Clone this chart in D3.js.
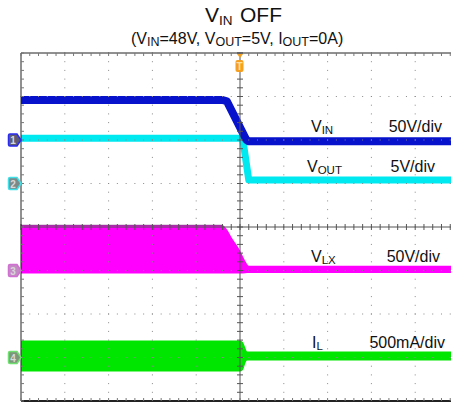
<!DOCTYPE html>
<html>
<head>
<meta charset="utf-8">
<script src="https://cdn.jsdelivr.net/npm/d3@7"></script>
<style>
  html, body { margin: 0; padding: 0; background: #fff; }
  svg { display: block; font-family: "Liberation Sans", Arial, sans-serif; }
</style>
</head>
<body>
<svg id="chart" width="451" height="404"></svg>
<script>
// ---- Data (time in divisions, values in channel units) ----
const xDivisions = d3.range(0, 11);          // 10 horizontal divisions
const yDivisions = d3.range(-4, 5);          // 8 vertical divisions
const channelNames = ["VIN", "VOUT", "VLX", "IL"];
const channelOffsets = [2, 1, -1, -3];       // ground reference (div)
const channelPerDiv = [50, 5, 50, 500];      // V/div, V/div, V/div, mA/div
const scaleLabels = ["50V/div", "5V/div", "50V/div", "500mA/div"];
const channelMarkers = ["1", "2", "3", "4"];

// VIN (V)
const vinTime = [0, 4.6, 4.7, 5.14, 5.2, 10];
const vinValue = [46, 46, 44.5, 0.5, -1.5, -1.5];
// VOUT (V)
const voutTime = [0, 5.06, 5.11, 5.2, 10];
const voutValue = [5.2, 5.2, 3.5, 0.4, 0.4];
// VLX envelope (V)
const vlxTime = [0, 4.6, 4.66, 4.82, 5.0, 5.12, 5.2, 10];
const vlxHigh = [52, 52, 50, 37, 23, 11, 5.5, 5.5];
const vlxLow = [-3.5, -3.5, -3.5, -3.5, -3.5, -3.2, -3, -3];
// IL envelope (mA)
const ilTime = [0, 4.95, 5.03, 5.08, 5.12, 5.16, 10];
const ilHigh = [195, 195, 190, 165, 115, 69, 69];
const ilLow = [-161, -161, -158, -130, -70, -34, -34];

// ---- Scales ----
const svg = d3.select("#chart");
const x = d3.scaleLinear().domain([0, 10]).range([21, 459]);
const y = d3.scaleLinear().domain([-4, 4]).range([401, 53]);
const chY = (ch, v) => y(channelOffsets[ch] + v / channelPerDiv[ch]);

const colors = { VIN: "#0612cc", VOUT: "#00e8f0", VLX: "#ff00ff", IL: "#00e600" };

// ---- Titles ----
const title = svg.append("text").attr("y", 22).attr("font-size", 21).attr("fill", "#111");
title.append("tspan").attr("x", 205).text("V");
title.append("tspan").attr("font-size", 13.5).attr("dy", 3).text("IN");
title.append("tspan").attr("x", 240).attr("dy", -3).text("OFF");

const subMain = 16, subSmall = 12.5;
const sub = svg.append("text").attr("x", 131).attr("y", 44).attr("font-size", subMain).attr("fill", "#111");
sub.append("tspan").text("(V");
sub.append("tspan").attr("font-size", subSmall).attr("dy", 2).text("IN");
sub.append("tspan").attr("dy", -2).text("=48V, V");
sub.append("tspan").attr("font-size", subSmall).attr("dy", 2).text("OUT");
sub.append("tspan").attr("dy", -2).text("=5V, I");
sub.append("tspan").attr("font-size", subSmall).attr("dy", 2).text("OUT");
sub.append("tspan").attr("dy", -2).text("=0A)");

// ---- Clip ----
svg.append("clipPath").attr("id", "plot").append("rect")
  .attr("x", x(0)).attr("y", y(4)).attr("width", x(10) - x(0)).attr("height", y(-4) - y(4));
const g = svg.append("g").attr("clip-path", "url(#plot)");

// ---- Traces ----
const areaVlx = d3.area()
  .x((d, i) => x(vlxTime[i]))
  .y0((d, i) => chY(2, vlxLow[i]))
  .y1((d, i) => chY(2, vlxHigh[i]))
  .curve(d3.curveMonotoneX);
g.append("path").datum(vlxTime).attr("d", areaVlx).attr("fill", colors.VLX);
g.append("path").datum(vlxTime.slice(0, 2))
  .attr("d", d3.line().x((d, i) => x(vlxTime[i])).y((d, i) => chY(2, vlxHigh[i])))
  .attr("stroke", "#5a1a5a").attr("stroke-width", 1).attr("opacity", 0.7).attr("fill", "none");

const areaIl = d3.area()
  .x((d, i) => x(ilTime[i]))
  .y0((d, i) => chY(3, ilLow[i]))
  .y1((d, i) => chY(3, ilHigh[i]))
  .curve(d3.curveMonotoneX);
g.append("path").datum(ilTime).attr("d", areaIl).attr("fill", colors.IL);

const lineVout = d3.line().x((d, i) => x(voutTime[i])).y((d, i) => chY(1, voutValue[i]));
g.append("path").datum(voutTime).attr("d", lineVout)
  .attr("stroke", colors.VOUT).attr("stroke-width", 7).attr("fill", "none")
  .attr("stroke-linejoin", "round");

const lineVin = d3.line().x((d, i) => x(vinTime[i])).y((d, i) => chY(0, vinValue[i]));
g.append("path").datum(vinTime).attr("d", lineVin)
  .attr("stroke", colors.VIN).attr("stroke-width", 8).attr("fill", "none")
  .attr("stroke-linejoin", "round");

// ---- Grid (dotted) ----
const minorX = d3.range(0, 50.5).map(i => i / 5);
const minorY = d3.range(-20, 20.5).map(i => i / 5);
const grid = svg.append("g").attr("fill", "#8a8a8a");
xDivisions.filter(d => d > 0 && d < 10 && d !== 5).forEach(d => {
  minorY.forEach(v => grid.append("rect").attr("x", x(d) - 0.5).attr("y", y(v) - 0.5).attr("width", 1).attr("height", 1));
});
yDivisions.filter(d => d > -4 && d < 4 && d !== 0).forEach(d => {
  minorX.forEach(v => grid.append("rect").attr("x", x(v) - 0.5).attr("y", y(d) - 0.5).attr("width", 1).attr("height", 1));
});

// ---- Center lines with ticks ----
const axes = svg.append("g").attr("stroke", "#555").attr("stroke-width", 1);
axes.append("line").attr("x1", x(5)).attr("x2", x(5)).attr("y1", y(4)).attr("y2", y(-4));
axes.append("line").attr("x1", x(0)).attr("x2", x(10)).attr("y1", y(0)).attr("y2", y(0));
minorY.forEach(v => axes.append("line").attr("x1", x(5) - 3).attr("x2", x(5) + 3).attr("y1", y(v)).attr("y2", y(v)));
minorX.forEach(v => axes.append("line").attr("x1", x(v)).attr("x2", x(v)).attr("y1", y(0) - 3).attr("y2", y(0) + 3));

// ---- Frame with ticks ----
const frame = svg.append("g").attr("stroke", "#222").attr("stroke-width", 1);
frame.append("line").attr("x1", x(0)).attr("x2", x(10)).attr("y1", y(4)).attr("y2", y(4));
frame.append("line").attr("x1", x(0)).attr("x2", x(10)).attr("y1", y(-4)).attr("y2", y(-4)).attr("stroke-width", 2);
frame.append("line").attr("x1", x(0)).attr("x2", x(0)).attr("y1", y(4)).attr("y2", y(-4));
minorX.forEach(v => {
  frame.append("line").attr("x1", x(v)).attr("x2", x(v)).attr("y1", y(4)).attr("y2", y(4) + 3).attr("stroke", "#777");
  frame.append("line").attr("x1", x(v)).attr("x2", x(v)).attr("y1", y(-4)).attr("y2", y(-4) - 3).attr("stroke", "#777");
});
minorY.forEach(v => frame.append("line").attr("x1", x(0)).attr("x2", x(0) + 3).attr("y1", y(v)).attr("y2", y(v)).attr("stroke", "#777"));

// ---- Channel markers ----
const markerFill = ["#5c5c74", "#7a8a8a", "#c48ac4", "#7c967c"];
const markerStroke = ["#2a2af0", "#40e0e8", "#d070d0", "#70e070"];
channelNames.forEach((n, i) => {
  const cy = y(channelOffsets[i]);
  const x0 = x(0);
  const m = svg.append("g");
  m.append("path")
    .attr("d", `M${x0 - 11},${cy - 6} h7 l4,6 l-4,6 h-7 q-1.5,0 -1.5,-1.5 v-9 q0,-1.5 1.5,-1.5 z`)
    .attr("fill", markerFill[i]).attr("stroke", markerStroke[i]).attr("stroke-width", 1.5);
  m.append("text").attr("x", x0 - 8).attr("y", cy + 4).attr("font-size", 10).attr("font-weight", "bold")
    .attr("fill", "#d8d8d8").attr("text-anchor", "middle").text(channelMarkers[i]);
});

// ---- Trigger marker ----
const tx = x(5);
svg.append("path").attr("d", `M${tx - 3},${y(4) + 1} h6 l-3,4 z`).attr("fill", "#f5a020");
svg.append("rect").attr("x", tx - 4.5).attr("y", y(4) + 7).attr("width", 8).attr("height", 12).attr("rx", 2)
  .attr("fill", "#f5a020");
svg.append("text").attr("x", tx - 0.5).attr("y", y(4) + 17).attr("font-size", 10).attr("font-weight", "bold")
  .attr("fill", "#ffe0a0").attr("text-anchor", "middle").text("T");

// ---- Labels ----
const labelFont = 16;
const subFont = 11.5;
const names = [["V", "IN"], ["V", "OUT"], ["V", "LX"], ["I", "L"]];
const nameX = [311, 307, 311, 312];
const labelY = [132, 172, 262, 348];
const scaleRight = [442, 435, 440, 445];
names.forEach((nm, i) => {
  const t = svg.append("text").attr("x", nameX[i]).attr("y", labelY[i]).attr("font-size", labelFont).attr("fill", "#111");
  t.append("tspan").text(nm[0]);
  t.append("tspan").attr("font-size", subFont).attr("dy", 2).text(nm[1]);
  svg.append("text").attr("x", scaleRight[i]).attr("y", labelY[i]).attr("font-size", labelFont)
    .attr("text-anchor", "end").attr("fill", "#111").text(scaleLabels[i]);
});
</script>
</body>
</html>
